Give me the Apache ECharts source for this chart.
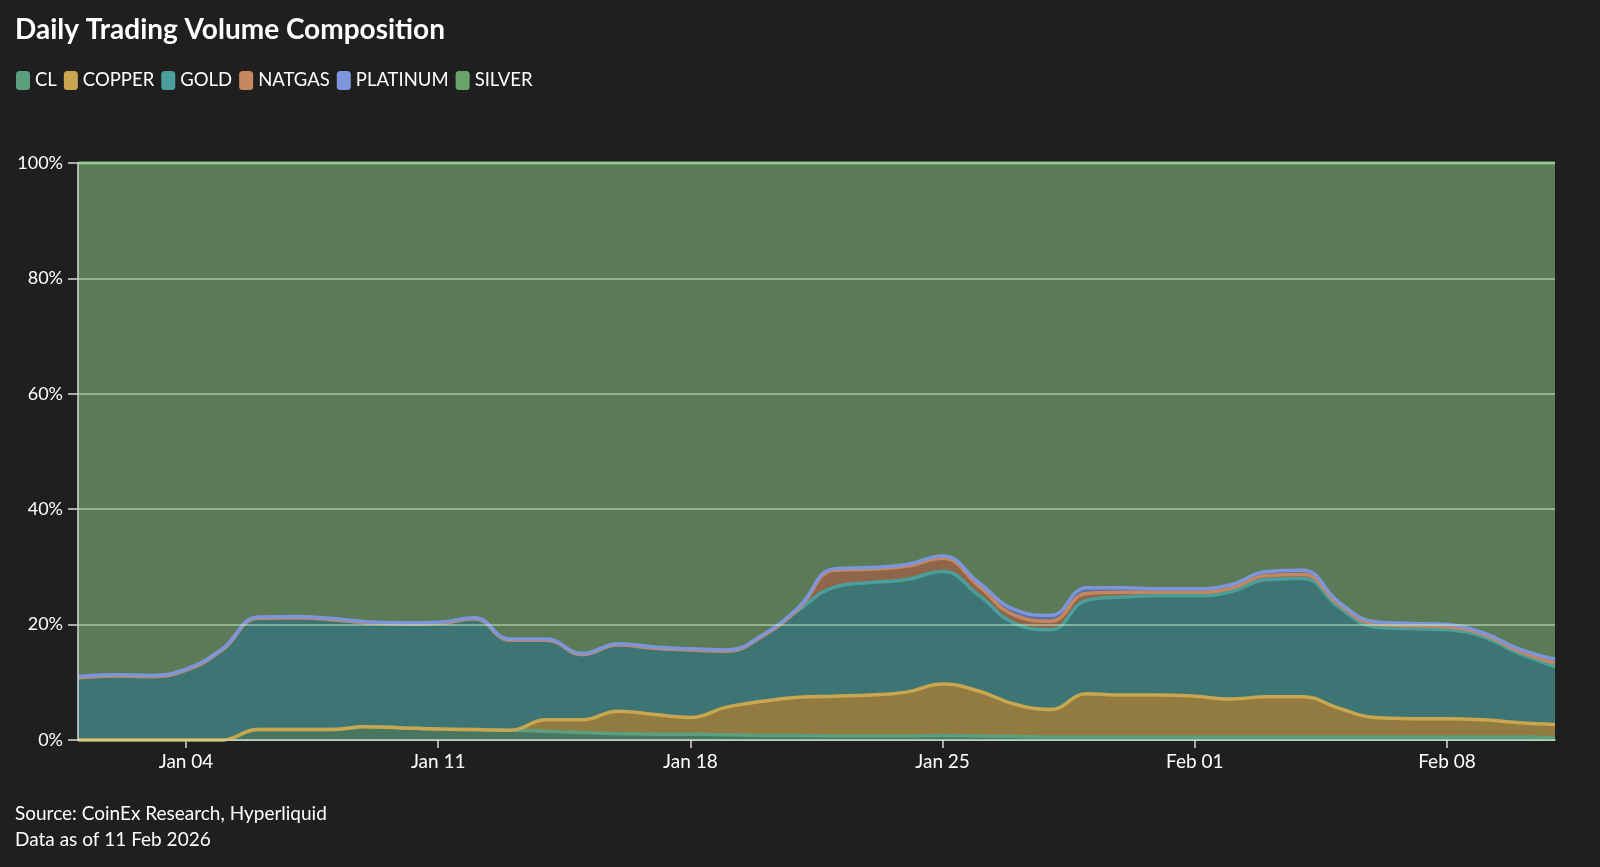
<!DOCTYPE html>
<html>
<head>
<meta charset="utf-8">
<script src="https://cdn.jsdelivr.net/npm/echarts@6/dist/echarts.min.js"></script>
<style>
  html, body { margin: 0; padding: 0; background: #1f1f1f; }
  #chart { width: 1600px; height: 867px; }
</style>
</head>
<body>
<div id="chart"></div>
<script>
// share of daily volume, percent
const dates = ['Jan 01','Jan 02','Jan 03','Jan 04','Jan 05','Jan 06','Jan 07','Jan 08','Jan 09','Jan 10',
  'Jan 11','Jan 12','Jan 13','Jan 14','Jan 15','Jan 16','Jan 17','Jan 18','Jan 19','Jan 20',
  'Jan 21','Jan 22','Jan 23','Jan 24','Jan 25','Jan 26','Jan 27','Jan 28','Jan 29','Jan 30',
  'Jan 31','Feb 01','Feb 02','Feb 03','Feb 04','Feb 05','Feb 06','Feb 07','Feb 08','Feb 09',
  'Feb 10','Feb 11'];

const clData = [0,0,0,0,0,1.8,1.8,1.8,2.3,2.1,1.9,1.8,1.7,1.5,1.3,1.1,1.0,1.0,0.9,0.8,
  0.8,0.7,0.7,0.7,0.8,0.7,0.6,0.5,0.5,0.5,0.5,0.5,0.5,0.5,0.5,0.5,0.5,0.5,0.5,0.5,0.5,0.4];
const copperData = [0,0,0,0,0,0,0,0,0,0,0,0,0,2.0,2.2,3.9,3.4,2.9,4.8,5.9,
  6.6,6.9,7.1,7.6,8.9,7.8,5.6,4.8,7.5,7.3,7.3,7.1,6.6,7.0,7.0,5.0,3.4,3.2,3.2,3.0,2.5,2.3];
const goldData = [10.8,11.1,11.0,12.1,15.6,19.3,19.4,19.1,18.0,18.0,18.3,19.2,15.6,13.8,11.3,11.5,11.5,11.7,9.7,11.3,
  15.1,18.9,19.5,19.5,19.5,16.6,14.0,13.8,16.2,17.0,17.2,17.4,18.6,20.3,20.5,17.5,15.7,15.6,15.4,14.4,12.0,10.0];
const natgasData = [0,0,0,0,0,0,0,0,0,0,0,0,0,0,0,0,0,0,0,0,
  0.2,2.9,2.3,2.3,2.3,1.6,1.4,1.5,1.2,0.8,0.6,0.6,0.6,0.7,0.7,0.5,0.5,0.5,0.5,0.4,0.4,0.6];
const platinumData = [0.2,0.2,0.2,0.2,0.2,0.2,0.2,0.2,0.2,0.2,0.2,0.2,0.2,0.2,0.2,0.2,0.2,0.2,0.2,0.2,
  0.3,0.3,0.3,0.3,0.4,0.6,1.0,1.0,1.0,0.8,0.6,0.6,0.6,0.7,0.7,0.4,0.4,0.4,0.4,0.3,0.4,0.7];
const silverData = [89.0,88.7,88.8,87.7,84.2,78.7,78.6,78.9,79.5,79.7,79.6,78.8,82.5,82.5,85.0,83.3,83.9,84.2,84.4,81.8,
  77.0,70.3,70.1,69.6,68.1,72.7,77.4,78.4,73.6,73.6,73.8,73.8,73.1,70.8,70.6,76.1,79.5,79.8,80.0,81.4,84.2,86.0];

const yTicks = [0, 20, 40, 60, 80, 100];

const names = ['CL', 'COPPER', 'GOLD', 'NATGAS', 'PLATINUM', 'SILVER'];
const colors = ['#5b9f7f', '#c9a64f', '#4a9e9b', '#c4875e', '#7d95dc', '#6aa46b'];
const values = [clData, copperData, goldData, natgasData, platinumData, silverData];

const FONT = 'Lato';

function renderChart() {
  const dom = document.getElementById('chart');
  const chart = echarts.init(dom, null, { renderer: 'canvas' });
  const showTick = (idx) => (idx - 3) % 7 === 0;
  const option = {
    backgroundColor: '#1f1f1f',
    animation: false,
    textStyle: { fontFamily: FONT },
    title: {
      text: 'Daily Trading Volume Composition',
      left: 15,
      top: 16,
      padding: 0,
      textStyle: { color: '#ffffff', fontSize: 28, fontWeight: 'bold', fontFamily: FONT }
    },
    legend: {
      data: names,
      left: 16,
      top: 71,
      padding: 0,
      itemWidth: 14,
      itemHeight: 19,
      itemGap: 7,
      icon: 'roundRect',
      textStyle: { color: '#ffffff', fontSize: 18.5, fontFamily: FONT }
    },
    grid: {
      left: 78,
      right: 45,
      top: 163,
      bottom: 127,
      containLabel: false
    },
    xAxis: {
      type: 'category',
      data: dates,
      boundaryGap: false,
      axisLine: { show: true, lineStyle: { color: '#d8d8d8', width: 1.5 } },
      axisTick: { show: true, interval: showTick, length: 8, lineStyle: { color: '#d8d8d8', width: 1.5 } },
      axisLabel: { interval: showTick, color: '#ffffff', fontSize: 19, margin: 12, fontFamily: FONT },
      splitLine: { show: false }
    },
    yAxis: {
      type: 'value',
      min: 0,
      max: 100,
      interval: 20,
      z: 5,
      axisLine: { show: true, lineStyle: { color: '#d8d8d8', width: 1.5 } },
      axisTick: { show: true, length: 10, lineStyle: { color: '#d8d8d8', width: 1.5 } },
      axisLabel: {
        color: '#ffffff', fontSize: 18, margin: 15, fontFamily: FONT,
        formatter: (v) => yTicks.includes(v) ? v + '%' : ''
      },
      splitLine: { show: true, lineStyle: { color: 'rgba(210,245,205,0.62)', width: 1.5 } }
    },
    series: names.map((name, i) => ({
      name: name,
      type: 'line',
      stack: 'total',
      data: values[i],
      smooth: 0.45,
      symbol: 'none',
      color: colors[i],
      lineStyle: { color: colors[i], width: 3.5 },
      areaStyle: { color: name === 'SILVER' ? '#5a7b56' : colors[i], opacity: name === 'SILVER' ? 1 : 0.68 },
      z: 2
    })),
    graphic: [
      {
        type: 'text', left: 15, top: 804,
        style: { text: 'Source: CoinEx Research, Hyperliquid', fill: '#ffffff', fontSize: 19, fontFamily: FONT }
      },
      {
        type: 'text', left: 15, top: 830,
        style: { text: 'Data as of 11 Feb 2026', fill: '#ffffff', fontSize: 19, fontFamily: FONT }
      }
    ]
  };
  chart.setOption(option, true);
}
renderChart();
</script>
</body>
</html>
